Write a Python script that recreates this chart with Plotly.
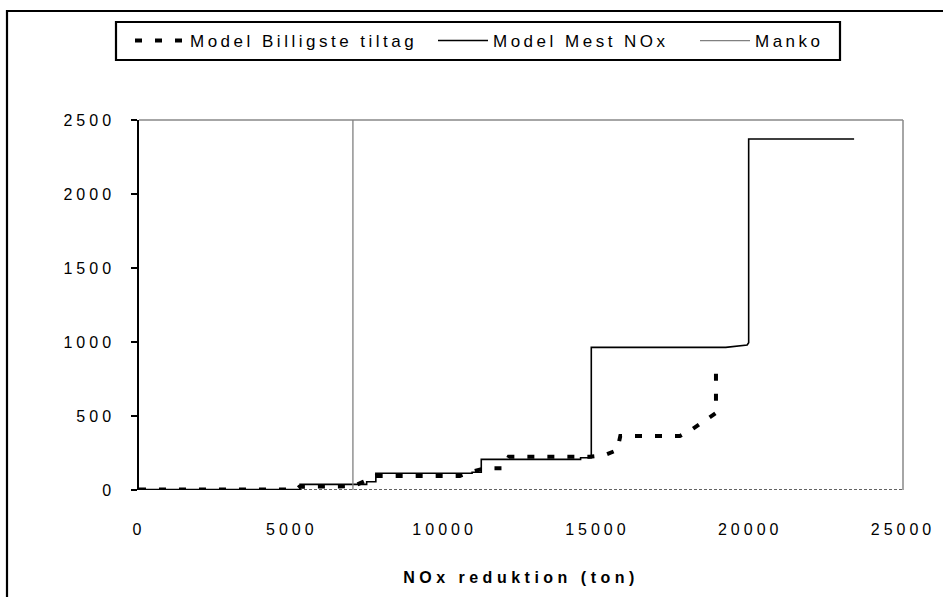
import plotly.graph_objects as go

# ---- data ----
series_names = ["Model Billigste tiltag", "Model Mest NOx", "Manko"]
x_title = "NOx reduktion (ton)"

billig_x = [0, 5150, 5250, 7000, 7350, 7750, 10500, 10780, 11320, 11910, 12100,
            14750, 15250, 15650, 15750, 17700, 18100, 18500, 18880, 18880]
billig_y = [3, 3, 22, 25, 56, 95, 95, 117, 147, 147, 225,
            225, 237, 270, 365, 365, 410, 466, 520, 800]

mest_x = [0, 5270, 5270, 7450, 7450, 7750, 7750, 10900, 10900, 11200, 11200,
          14450, 14450, 14800, 14800, 19200, 19900, 19950, 19950, 23400]
mest_y = [3, 3, 38, 38, 56, 56, 113, 113, 120, 120, 207,
          207, 218, 218, 964, 964, 980, 995, 2372, 2372]

manko_x = [7000, 7000]
manko_y = [0, 2500]

x_ticks = [0, 5000, 10000, 15000, 20000, 25000]
y_ticks = [0, 500, 1000, 1500, 2000, 2500]

FONT = "Liberation Sans, Arial, sans-serif"

fig = go.Figure()
fig.add_trace(go.Scatter(x=billig_x, y=billig_y, mode="lines", name=series_names[0],
                         line=dict(color="black", width=4, dash="7px,13px"),
                         legendwidth=238))
fig.add_trace(go.Scatter(x=mest_x, y=mest_y, mode="lines", name=series_names[1],
                         line=dict(color="black", width=1.6), legendwidth=197))
fig.add_trace(go.Scatter(x=manko_x, y=manko_y, mode="lines", name=series_names[2],
                         line=dict(color="#808080", width=1.3), legendwidth=90))

L, R, T, B = 139, 40, 120, 107
W, H = 943, 597
pw, ph = W - L - R, H - T - B


def px(xp):
    return (xp - L) / pw


def py(yp):
    return (H - B - yp) / ph


shapes = [
    # outer chart-area frame (extends past the picture edges)
    dict(type="rect", xref="paper", yref="paper", x0=px(7), x1=px(965), y0=py(615), y1=py(11),
         line=dict(color="black", width=2.2), fillcolor="rgba(0,0,0,0)", layer="below"),
    # legend box
    dict(type="rect", xref="paper", yref="paper", x0=px(116), x1=px(840), y0=py(60), y1=py(22),
         line=dict(color="black", width=2.2), fillcolor="rgba(0,0,0,0)"),
    # plot area border top & right (grey)
    dict(type="line", xref="paper", yref="paper", x0=0, x1=1, y0=1, y1=1,
         line=dict(color="#888888", width=1.5), layer="below"),
    dict(type="line", xref="paper", yref="paper", x0=1, x1=1, y0=0, y1=1,
         line=dict(color="#888888", width=1.5), layer="below"),
    # dashed category axis line
    dict(type="line", xref="paper", yref="y", x0=0, x1=1, y0=0, y1=0,
         line=dict(color="#303030", width=1.5, dash="3px,2px"), layer="below"),
]

fig.update_layout(
    width=W, height=H, autosize=False,
    margin=dict(l=L, r=R, t=T, b=B, pad=0),
    paper_bgcolor="white", plot_bgcolor="white",
    font=dict(family=FONT, size=16, color="black"),
    showlegend=True,
    legend=dict(orientation="h", yanchor="middle", y=py(41), xanchor="left", x=px(130),
                bgcolor="rgba(0,0,0,0)", borderwidth=0, itemwidth=50,
                font=dict(family=FONT, size=17, color="black")),
    shapes=shapes,
    xaxis=dict(range=[0, 25000], tickvals=x_ticks, ticktext=[str(v) for v in x_ticks],
               showgrid=False, zeroline=False, showline=False, ticks="",
               tickfont=dict(family=FONT, size=16, color="black"),
               ticklabelstandoff=28,
               title=dict(text=x_title, standoff=34,
                          font=dict(family=FONT, size=16, color="black", weight="bold"))),
    yaxis=dict(range=[0, 2500], tickvals=y_ticks, ticktext=[str(v) for v in y_ticks],
               showgrid=False, zeroline=False, showline=True, linecolor="black", linewidth=1.5,
               ticks="outside", ticklen=6, tickcolor="black", tickwidth=1.5,
               tickfont=dict(family=FONT, size=16, color="black"),
               ticklabelstandoff=13),
)

# Excel-style wide letter spacing of the texts (CSS rule, applies to every redraw)
post = """
var st = document.createElement('style');
st.textContent = '.js-plotly-plot .legendtext{letter-spacing:3.5px !important}' +
  '.js-plotly-plot .xtick text{letter-spacing:4px !important}' +
  '.js-plotly-plot .ytick text{letter-spacing:4px !important}' +
  '.js-plotly-plot .xtitle{letter-spacing:4.5px !important}' +
  '.js-plotly-plot .legend .scrollbox{clip-path:none !important}';
document.head.appendChild(st);
"""

fig.write_html("out.html", post_script=post)
